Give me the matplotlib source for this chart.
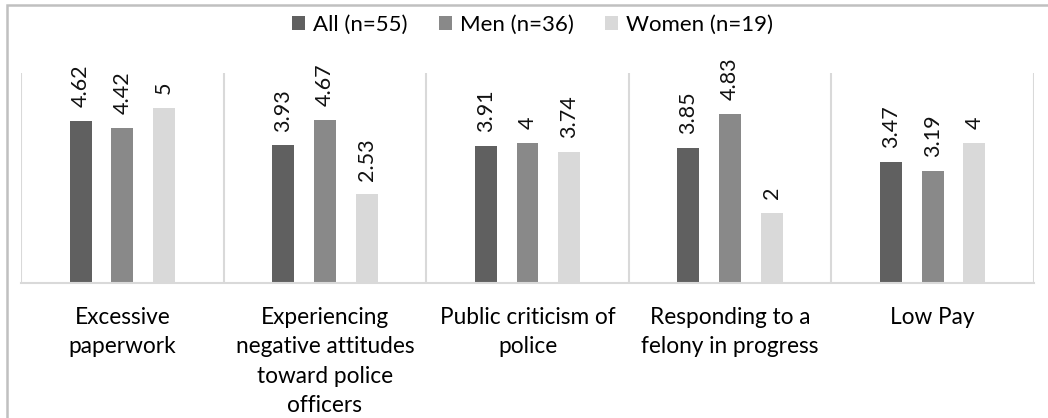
import numpy as np
import matplotlib.pyplot as plt
from matplotlib.patches import Rectangle, Patch

# datos
categorias = ["Excessive\npaperwork",
              "Experiencing\nnegative attitudes\ntoward police\nofficers",
              "Public criticism of\npolice",
              "Responding to a\nfelony in progress",
              "Low Pay"]
series = ["All (n=55)", "Men (n=36)", "Women (n=19)"]
todos = [4.62, 3.93, 3.91, 3.85, 3.47]
hombres = [4.42, 4.67, 4, 4.83, 3.19]
mujeres = [5, 2.53, 3.74, 2, 4]
colores = ["#606060", "#898989", "#d9d9d9"]

plt.rcParams['font.family'] = ['Lato', 'DejaVu Sans']

fig = plt.figure(figsize=(10.48, 4.18), dpi=100)
ax = fig.add_axes([21 / 1048, 135 / 418, 1013 / 1048, 210 / 418])

x = np.arange(len(categorias))
ancho = 0.108
desp = 0.206
for i, (vals, col) in enumerate(zip([todos, hombres, mujeres], colores)):
    pos = x + (i - 1) * desp
    ax.bar(pos, vals, width=ancho, color=col, zorder=2)
    for p, v in zip(pos, vals):
        ax.annotate(f"{v:g}", (p, v), xytext=(0, 10), textcoords='offset points',
                    rotation=90, ha='center', va='bottom', fontsize=15.5, color='#111111')

# lineas separadoras entre categorias
for b in np.arange(-0.5, len(categorias), 1.0):
    ax.axvline(b, color='#d9d9d9', lw=1.5, zorder=1)

ax.set_xlim(-0.5, len(categorias) - 0.5)
ax.set_ylim(0, 6)
ax.set_yticks([])
ax.set_xticks(x)
ax.set_xticklabels(categorias, fontsize=16.3, linespacing=1.5)
ax.tick_params(axis='x', length=0, pad=17)
for s in ['top', 'left', 'right']:
    ax.spines[s].set_visible(False)
ax.spines['bottom'].set_color('#d9d9d9')
ax.spines['bottom'].set_linewidth(1.5)

handles = [Patch(facecolor=c, edgecolor='none') for c in colores]
fig.legend(handles, series, loc='center', bbox_to_anchor=(0.508, 0.941), ncol=3,
           frameon=False, fontsize=16, handlelength=0.6, handleheight=0.6,
           handletextpad=0.35, columnspacing=1.4)

# borde exterior del grafico
fig.add_artist(Rectangle((7 / 1048, -0.2), 1.2, 1.2 - 5 / 418, transform=fig.transFigure,
                         fill=False, edgecolor='#c0c0c0', lw=1.8))

fig.savefig('out.png', dpi=100)
